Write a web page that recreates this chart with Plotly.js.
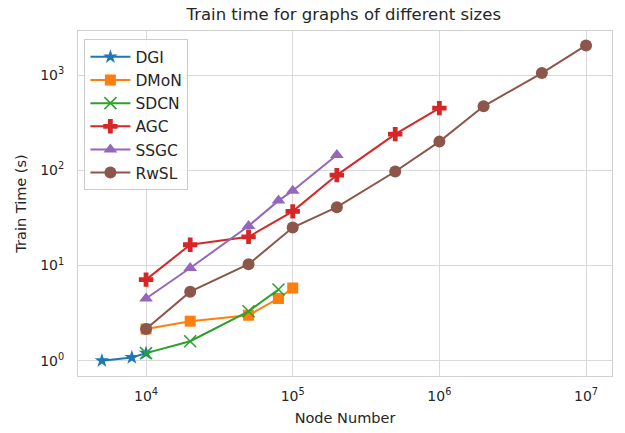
<!DOCTYPE html>
<html>
<head>
<meta charset="utf-8">
<script src="https://cdn.plot.ly/plotly-3.0.1.min.js"></script>
<style>html,body{margin:0;padding:0;background:#fff;}#chart{width:625px;height:433px;}</style>
</head>
<body>
<div id="chart"></div>
<script>
const seriesNames = ["DGI", "DMoN", "SDCN", "AGC", "SSGC", "RwSL"];
const dgiX = [5000, 8000, 10000];
const dgiY = [1.0, 1.08, 1.2];
const dmonX = [10000, 20000, 50000, 80000, 100000];
const dmonY = [2.15, 2.6, 3.0, 4.5, 5.8];
const sdcnX = [10000, 20000, 50000, 80000];
const sdcnY = [1.2, 1.6, 3.3, 5.6];
const agcX = [10000, 20000, 50000, 100000, 200000, 500000, 1000000];
const agcY = [7.1, 16.5, 20, 37, 89, 240, 450];
const ssgcX = [10000, 20000, 50000, 80000, 100000, 200000];
const ssgcY = [4.5, 9.4, 26, 48, 61, 145];
const rwslX = [10000, 20000, 50000, 100000, 200000, 500000, 1000000, 2000000, 5000000, 10000000];
const rwslY = [2.15, 5.3, 10.3, 25, 41, 97, 200, 470, 1050, 2050];
const xTickVals = [1e4, 1e5, 1e6, 1e7];
const xTickText = ["10<sup>4</sup>", "10<sup>5</sup>", "10<sup>6</sup>", "10<sup>7</sup>"];
const yTickVals = [1, 10, 100, 1000];
const yTickText = ["10<sup>0</sup>", "10<sup>1</sup>", "10<sup>2</sup>", "10<sup>3</sup>"];

const colors = ["#1f77b4", "#ff7f0e", "#2ca02c", "#d62728", "#9467bd", "#8c564b"];
const symbols = ["star", "square", "x-thin-open", "cross", "triangle-up", "circle"];
const sizes = [11, 11, 12, 12, 12, 12];
const xs = [dgiX, dmonX, sdcnX, agcX, ssgcX, rwslX];
const ys = [dgiY, dmonY, sdcnY, agcY, ssgcY, rwslY];

const traces = seriesNames.map((n, i) => ({
  x: xs[i], y: ys[i], name: n, type: "scatter", mode: "lines+markers",
  line: {color: colors[i], width: 2},
  marker: {symbol: symbols[i], size: sizes[i], color: colors[i],
           line: {color: colors[i], width: symbols[i] === "x-thin-open" ? 1.5 : 0}}
}));

const font = "DejaVu Sans, sans-serif";
const layout = {
  width: 625, height: 433,
  margin: {l: 78, r: 13, t: 31, b: 57},
  paper_bgcolor: "#fff", plot_bgcolor: "#fff",
  font: {family: font, color: "#262626", size: 13},
  title: {text: "Train time for graphs of different sizes", x: 0.55, xanchor: "center", y: 0.968, yanchor: "middle", font: {size: 16.5, family: font, color: "#262626"}},
  xaxis: {type: "log", range: [3.536, 7.177], tickvals: xTickVals, ticktext: xTickText,
          showgrid: true, gridcolor: "#d9d9d9", gridwidth: 1, zeroline: false,
          showline: true, mirror: true, linecolor: "#d0d0d0", linewidth: 1,
          ticks: "", tickfont: {size: 14}, ticklabelstandoff: 7,
          title: {text: "Node Number", font: {size: 14.5}, standoff: 10}},
  yaxis: {type: "log", range: [-0.161, 3.463], tickvals: yTickVals, ticktext: yTickText,
          showgrid: true, gridcolor: "#d9d9d9", gridwidth: 1, zeroline: false,
          showline: true, mirror: true, linecolor: "#d0d0d0", linewidth: 1,
          ticks: "", tickfont: {size: 14}, ticklabelstandoff: 10,
          title: {text: "Train Time (s)", font: {size: 14.5}, standoff: 10}},
  legend: {x: 0.012, y: 0.976, xanchor: "left", yanchor: "top",
           bgcolor: "rgba(255,255,255,0.8)", bordercolor: "#cccccc", borderwidth: 1,
           font: {size: 15.5, family: font}, tracegroupgap: 0, itemwidth: 40},
  showlegend: true
};
Plotly.newPlot("chart", traces, layout, {displayModeBar: false, staticPlot: true});
</script>
</body>
</html>
